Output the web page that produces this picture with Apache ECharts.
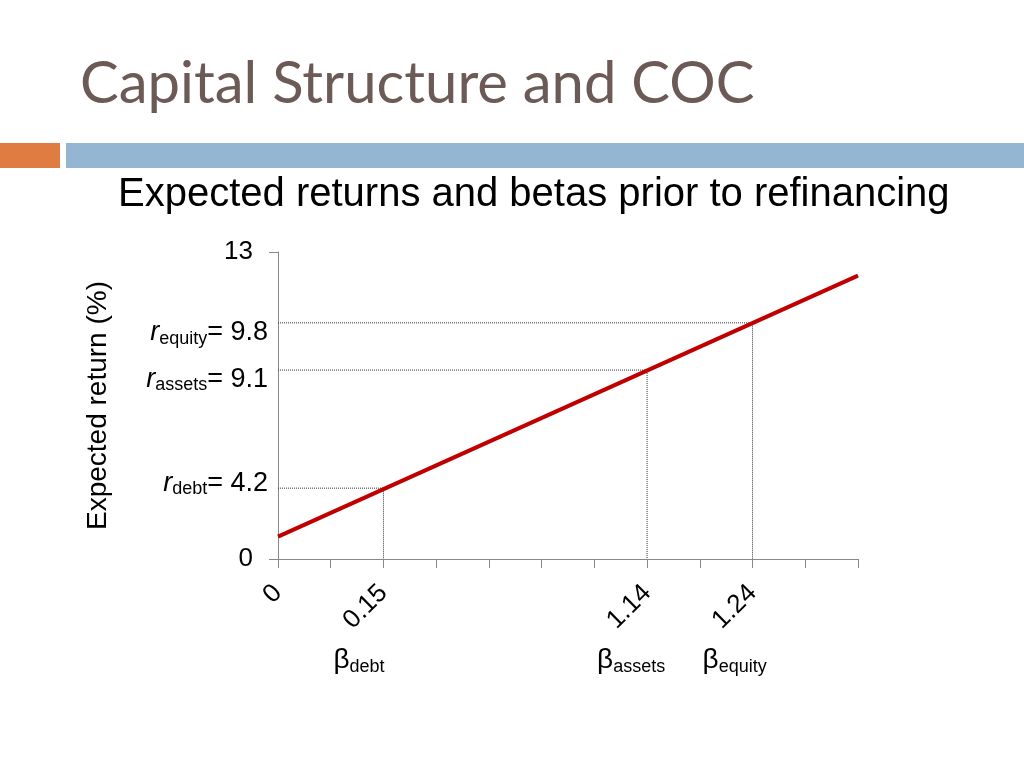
<!DOCTYPE html>
<html>
<head>
<meta charset="utf-8">
<script src="https://cdn.jsdelivr.net/npm/echarts@6/dist/echarts.min.js"></script>
<style>
  html, body { margin: 0; padding: 0; background: #fff; }
  #chart { width: 1024px; height: 768px; }
</style>
</head>
<body>
<div id="chart"></div>
<script>
// x positions are category slots 0..11, only a few carry a beta label
var xTickLabels = ['0', '', '0.15', '', '', '', '', '1.14', '', '1.24', '', ''];
// the red line (expected return vs beta)
var lineX = [0, 11];
var lineY = [0.95, 12.0];
// points, with their annotations
var refX = [2, 7, 9];
var refY = [3, 8, 10];
var refRLabels = ['debt', 'assets', 'equity'];
var refRValues = ['4.2', '9.1', '9.8'];
var betaLabels = ['debt', 'assets', 'equity'];
var yEnds = [0, 13];

var chart = echarts.init(document.getElementById('chart'));
var FONT = '"Liberation Sans", Arial, sans-serif';

var series = [{
  type: 'line',
  data: lineX.map(function (x, i) { return [x, lineY[i]]; }),
  symbol: 'none',
  lineStyle: { color: '#c00000', width: 4 },
  z: 5
}];
refX.forEach(function (x, i) {
  series.push({
    type: 'line',
    data: [[0, refY[i]], [x, refY[i]], [x, 0]],
    symbol: 'none',
    lineStyle: { color: '#333', width: 1, type: [1, 1] },
    z: 3
  });
});

var option = {
  backgroundColor: '#fff',
  animation: false,
  textStyle: { fontFamily: FONT },
  grid: { left: 278, right: 166, top: 252, bottom: 209 },
  xAxis: {
    type: 'value',
    min: 0,
    max: 11,
    interval: 1,
    splitLine: { show: false },
    axisLine: { lineStyle: { color: '#888', width: 1 } },
    axisTick: { show: true, length: 9, lineStyle: { color: '#888' } },
    axisLabel: {
      rotate: 45,
      fontSize: 26,
      color: '#000',
      margin: 30,
      formatter: function (v) { return xTickLabels[v] || ''; }
    }
  },
  yAxis: {
    type: 'value',
    min: 0,
    max: 13,
    name: 'Expected return (%)',
    nameLocation: 'middle',
    nameGap: 166,
    nameTextStyle: { fontSize: 28, color: '#000' },
    splitLine: { show: false },
    axisLine: { show: true, lineStyle: { color: '#888', width: 1 } },
    axisTick: { show: true, length: 9, customValues: yEnds, lineStyle: { color: '#888' } },
    axisLabel: {
      customValues: yEnds,
      margin: 25,
      fontSize: 26,
      color: '#000',
      padding: [9, 0, 0, 0]
    }
  },
  series: series,
  graphic: [
    {
      type: 'text', left: 80, top: 55,
      style: { text: 'Capital Structure and COC', fontFamily: 'Lato, sans-serif', fontSize: 58, fill: '#6b5a55' }
    },
    { type: 'rect', shape: { x: 0, y: 143, width: 60, height: 25 }, style: { fill: '#e07b42' } },
    { type: 'rect', shape: { x: 66, y: 143, width: 958, height: 25 }, style: { fill: '#94b6d3' } },
    {
      type: 'text', left: 118, top: 175,
      style: { text: 'Expected returns and betas prior to refinancing', fontFamily: FONT, fontSize: 40, fill: '#000' }
    }
  ]
};
chart.setOption(option);

// annotation text boxes placed from the axis scale
var yShift = [-5, 9, 10];
var extra = [];
refX.forEach(function (x, i) {
  var py = chart.convertToPixel({ gridIndex: 0 }, [0, refY[i]]);
  extra.push({
    type: 'text',
    x: 268,
    y: py[1] + yShift[i],
    style: {
      text: '{r|r}{s|' + refRLabels[i] + '}{n|= ' + refRValues[i] + '}',
      align: 'right',
      verticalAlign: 'middle',
      rich: {
        n: { fontSize: 27, lineHeight: 30, fontFamily: FONT, fill: '#000' },
        r: { fontSize: 27, lineHeight: 30, fontStyle: 'italic', fontFamily: FONT, fill: '#000' },
        s: { fontSize: 18, lineHeight: 8, verticalAlign: 'bottom', fontFamily: FONT, fill: '#000' }
      }
    }
  });
  var px = chart.convertToPixel({ gridIndex: 0 }, [x, 0]);
  extra.push({
    type: 'text',
    x: px[0] - 50,
    y: 660,
    style: {
      text: '{b|β}{s|' + betaLabels[i] + '}',
      verticalAlign: 'middle',
      rich: {
        b: { fontSize: 28, lineHeight: 32, fontFamily: FONT, fill: '#000' },
        s: { fontSize: 18, lineHeight: 8, verticalAlign: 'bottom', fontFamily: FONT, fill: '#000' }
      }
    }
  });
});
chart.setOption({ graphic: option.graphic.concat(extra) });
</script>
</body>
</html>
